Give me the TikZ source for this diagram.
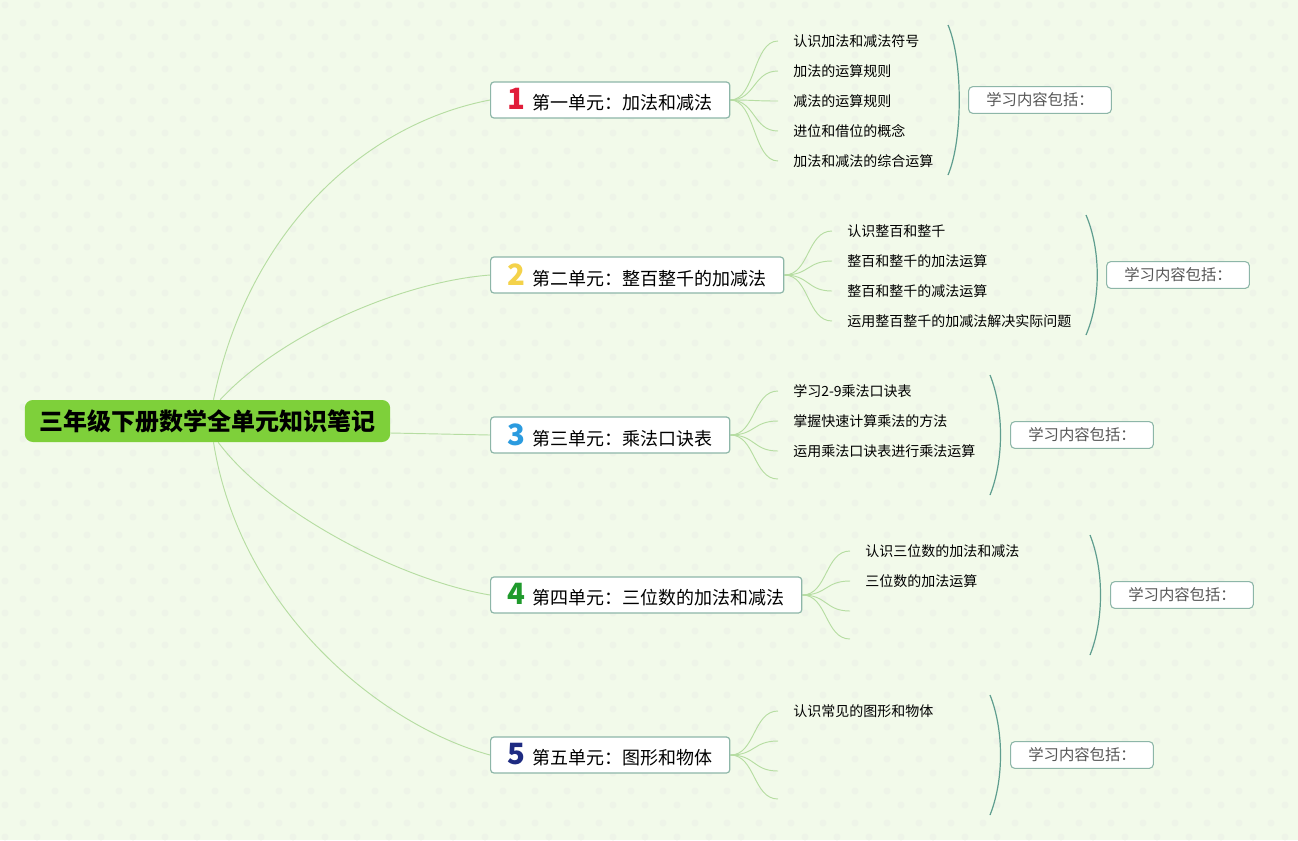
\documentclass[tikz,border=0pt]{standalone}
\usepackage{fontspec}
\usepackage{xcolor}
\newfontfamily\cjk{Noto Sans CJK SC}
\usetikzlibrary{positioning,backgrounds}

\definecolor{bgcol}{HTML}{F2FAEA}
\definecolor{dotcol}{HTML}{EEF4E8}
\definecolor{rootcol}{HTML}{7ED03A}
\definecolor{branchcol}{HTML}{B6DDA2}
\definecolor{boxline}{HTML}{8DB6A8}
\definecolor{bracecol}{HTML}{5F9E8F}
\definecolor{notetext}{HTML}{555555}
\definecolor{numred}{HTML}{E11D3A}
\definecolor{numyellow}{HTML}{F4D24A}
\definecolor{numblue}{HTML}{2B9BDF}
\definecolor{numgreen}{HTML}{1F9A2C}
\definecolor{numnavy}{HTML}{1E2B82}

% coloured unit number in front of the unit title
\newcommand{\unitno}[2]{{\fontsize{22}{22}\selectfont\bfseries\color{#1}#2}\hspace{5pt}}

\tikzset{
  rootbox/.style={fill=rootcol, rounded corners=6pt, inner xsep=11pt,
    minimum height=31.5pt, font=\cjk\bfseries\fontsize{18}{20}\selectfont},
  unitbox/.style={draw=boxline, line width=0.9pt, fill=white, rounded corners=2.5pt,
    anchor=west, inner xsep=13pt, minimum height=27pt,
    font=\cjk\fontsize{13.5}{15}\selectfont},
  leaf/.style={anchor=west, inner xsep=11.25pt, inner ysep=2pt,
    font=\cjk\fontsize{10.5}{12}\selectfont},
  notebox/.style={draw=boxline, line width=0.8pt, fill=white, rounded corners=3pt,
    minimum width=107pt, minimum height=20pt, text=notetext,
    font=\cjk\fontsize{11.5}{13}\selectfont},
  branch/.style={draw=branchcol, line width=0.7pt},
  brace/.style={draw=bracecol, line width=0.9pt}
}

\begin{document}
\begin{tikzpicture}[x=0.75pt,y=-0.75pt]
  \useasboundingbox (0,0) rectangle (1298,840);
  \begin{scope}[on background layer]
    \fill[bgcol] (0,0) rectangle (1298,840);
    \foreach \i in {0,...,40}
      \foreach \j in {0,...,26} {
        \fill[dotcol] (5+32*\i,5+32*\j) circle (2.6pt);
        \fill[dotcol] (23+32*\i,23+32*\j) circle (2.6pt);
      }
  \end{scope}

  % main topic
  \node[rootbox] (root) at (207.5,421) {三年级下册数学全单元知识笔记};

  % units
  \node[unitbox] (u1) at (490,100) {\unitno{numred}{1}第一单元：加法和减法};
  \node[unitbox] (u2) at (490,275) {\unitno{numyellow}{2}第二单元：整百整千的加减法};
  \node[unitbox] (u3) at (490,435) {\unitno{numblue}{3}第三单元：乘法口诀表};
  \node[unitbox] (u4) at (490,595) {\unitno{numgreen}{4}第四单元：三位数的加法和减法};
  \node[unitbox] (u5) at (490,755) {\unitno{numnavy}{5}第五单元：图形和物体};

  % unit 1 topics
  \node[leaf] (l11) at (778,41) {认识加法和减法符号};
  \node[leaf] (l12) at (778,71) {加法的运算规则};
  \node[leaf] (l13) at (778,101) {减法的运算规则};
  \node[leaf] (l14) at (778,131) {进位和借位的概念};
  \node[leaf] (l15) at (778,161) {加法和减法的综合运算};

  % unit 2 topics
  \node[leaf] (l21) at (832,231) {认识整百和整千};
  \node[leaf] (l22) at (832,261) {整百和整千的加法运算};
  \node[leaf] (l23) at (832,291) {整百和整千的减法运算};
  \node[leaf] (l24) at (832,321) {运用整百整千的加减法解决实际问题};

  % unit 3 topics
  \node[leaf] (l31) at (778,391) {学习2-9乘法口诀表};
  \node[leaf] (l32) at (778,421) {掌握快速计算乘法的方法};
  \node[leaf] (l33) at (778,451) {运用乘法口诀表进行乘法运算};
  \coordinate (l34) at (778,479);

  % unit 4 topics
  \node[leaf] (l41) at (850,551) {认识三位数的加法和减法};
  \node[leaf] (l42) at (850,581) {三位数的加法运算};
  \coordinate (l43) at (850,611);
  \coordinate (l44) at (850,639);

  % unit 5 topics
  \node[leaf] (l51) at (778,711) {认识常见的图形和物体};
  \coordinate (l52) at (778,741);
  \coordinate (l53) at (778,771);
  \coordinate (l54) at (778,799);

  % summaries
  \node[notebox] (s1) at (1040,100) {学习内容包括：};
  \node[notebox] (s2) at (1178,275) {学习内容包括：};
  \node[notebox] (s3) at (1082,435) {学习内容包括：};
  \node[notebox] (s4) at (1182,595) {学习内容包括：};
  \node[notebox] (s5) at (1082,755) {学习内容包括：};

  % braces
  \draw[brace] (948,25) .. controls (963,60) and (963,140) .. (948,175);
  \draw[brace] (1086,215) .. controls (1101,250) and (1101,300) .. (1086,335);
  \draw[brace] (990,375) .. controls (1004,410) and (1004,460) .. (990,495);
  \draw[brace] (1090,535) .. controls (1104,570) and (1104,620) .. (1090,655);
  \draw[brace] (990,695) .. controls (1004,730) and (1004,780) .. (990,815);

  \begin{scope}[on background layer]
    % root to units
    \draw[branch] ([xshift=4.5pt]root.north) .. controls (247,235) and (360,125) .. (u1.west);
    \draw[branch] ([xshift=9.5pt]root.north) .. controls (280,335) and (400,282) .. (u2.west);
    \draw[branch] ([yshift=-9pt]root.east) -- (u3.west);
    \draw[branch] ([xshift=8pt]root.south) .. controls (270,512) and (400,580) .. (u4.west);
    \draw[branch] ([xshift=4.5pt]root.south) .. controls (240,610) and (380,725) .. (u5.west);
    % units to topics
    \foreach \k in {1,...,5}
      \draw[branch] (u1.east) .. controls +(25,0) and +(-25,0) .. (l1\k.west);
    \foreach \k in {1,...,4}
      \draw[branch] (u2.east) .. controls +(25,0) and +(-25,0) .. (l2\k.west);
    \foreach \k in {1,2,3}
      \draw[branch] (u3.east) .. controls +(25,0) and +(-25,0) .. (l3\k.west);
    \draw[branch] (u3.east) .. controls +(25,0) and +(-25,0) .. (l34);
    \foreach \k in {1,2}
      \draw[branch] (u4.east) .. controls +(25,0) and +(-25,0) .. (l4\k.west);
    \foreach \k in {3,4}
      \draw[branch] (u4.east) .. controls +(25,0) and +(-25,0) .. (l4\k);
    \draw[branch] (u5.east) .. controls +(25,0) and +(-25,0) .. (l51.west);
    \foreach \k in {2,3,4}
      \draw[branch] (u5.east) .. controls +(25,0) and +(-25,0) .. (l5\k);
  \end{scope}
\end{tikzpicture}
\end{document}
